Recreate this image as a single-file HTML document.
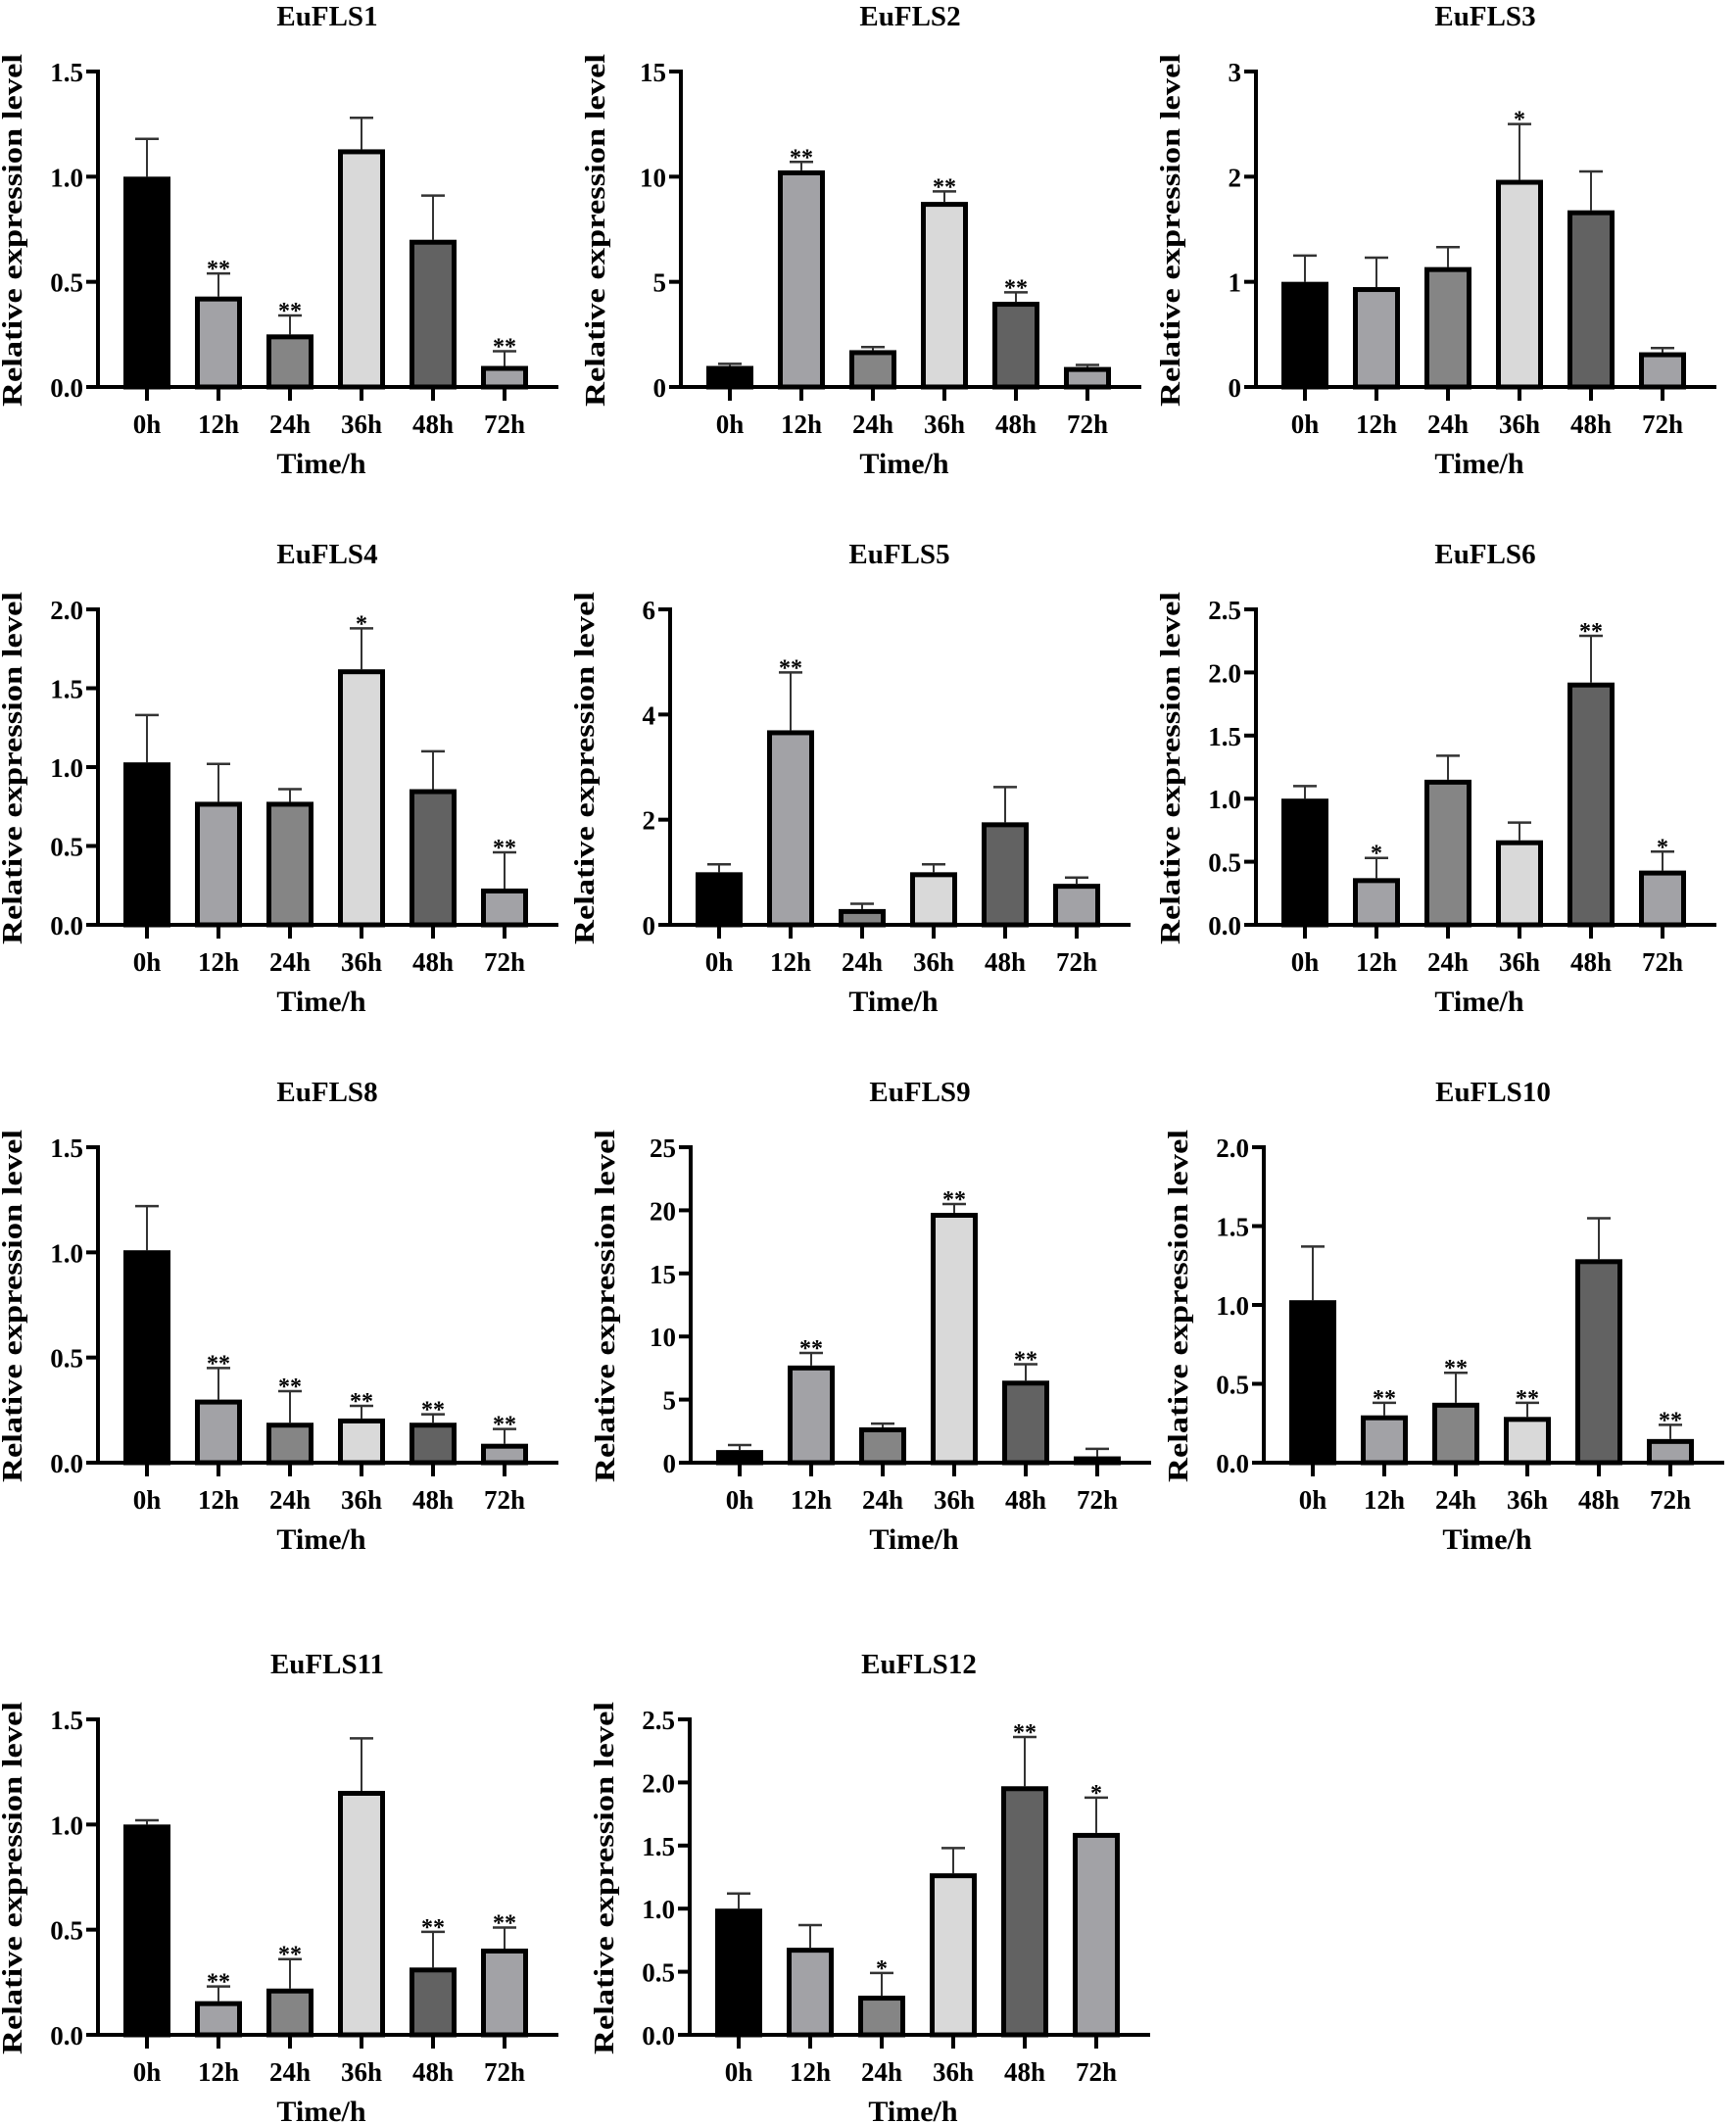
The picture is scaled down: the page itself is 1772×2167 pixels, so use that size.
<!DOCTYPE html>
<html><head><meta charset="utf-8"><style>
html,body{margin:0;padding:0;background:#fff;}
svg{display:block;}
text{font-family:"Liberation Serif",serif;font-weight:bold;fill:#000;}
</style></head><body>
<svg id="fig" width="1772" height="2167" viewBox="0 0 1772 2167" xmlns="http://www.w3.org/2000/svg"></svg>
<script>
const categories = ['0h','12h','24h','36h','48h','72h'];
const titles = ['EuFLS1','EuFLS2','EuFLS3','EuFLS4','EuFLS5','EuFLS6','EuFLS8','EuFLS9','EuFLS10','EuFLS11','EuFLS12'];
const means = [
 [1.0,0.43,0.25,1.13,0.70,0.10],
 [1.0,10.3,1.75,8.8,4.05,0.95],
 [1.0,0.95,1.14,1.97,1.68,0.33],
 [1.03,0.78,0.78,1.62,0.86,0.23],
 [1.0,3.7,0.3,1.0,1.95,0.78],
 [1.0,0.37,1.15,0.67,1.92,0.43],
 [1.01,0.30,0.19,0.21,0.19,0.09],
 [1.0,7.7,2.8,19.8,6.5,0.5],
 [1.03,0.30,0.38,0.29,1.29,0.15],
 [1.0,0.16,0.22,1.16,0.32,0.41],
 [1.0,0.69,0.31,1.28,1.97,1.6]
];
const errTops = [
 [1.18,0.54,0.34,1.28,0.91,0.17],
 [1.1,10.7,1.9,9.3,4.5,1.05],
 [1.25,1.23,1.33,2.5,2.05,0.37],
 [1.33,1.02,0.86,1.88,1.1,0.46],
 [1.15,4.8,0.4,1.15,2.62,0.9],
 [1.1,0.53,1.34,0.81,2.29,0.58],
 [1.22,0.45,0.34,0.27,0.23,0.16],
 [1.4,8.7,3.1,20.5,7.8,1.1],
 [1.37,0.38,0.57,0.38,1.55,0.24],
 [1.02,0.23,0.36,1.41,0.49,0.51],
 [1.12,0.87,0.49,1.48,2.36,1.88]
];
const sigMarks = [
 ['','**','**','','','**'],
 ['','**','','**','**',''],
 ['','','','*','',''],
 ['','','','*','','**'],
 ['','**','','','',''],
 ['','*','','','**','*'],
 ['','**','**','**','**','**'],
 ['','**','','**','**',''],
 ['','**','**','**','','**'],
 ['','**','**','','**','**'],
 ['','','*','','**','*']
];
const tickLabels = [
 ['0.0','0.5','1.0','1.5'],
 ['0','5','10','15'],
 ['0','1','2','3'],
 ['0.0','0.5','1.0','1.5','2.0'],
 ['0','2','4','6'],
 ['0.0','0.5','1.0','1.5','2.0','2.5'],
 ['0.0','0.5','1.0','1.5'],
 ['0','5','10','15','20','25'],
 ['0.0','0.5','1.0','1.5','2.0'],
 ['0.0','0.5','1.0','1.5'],
 ['0.0','0.5','1.0','1.5','2.0','2.5']
];
const layout=[[100,395],[695,395],[1282,395],[100,944],[684,944],[1282,944],[100,1493],[705,1493],[1290,1493],[100,2077],[704,2077]];
const fills=['#000000','#a2a2a6','#858585','#d9d9d9','#626262','#a2a2a6'];
const NS='http://www.w3.org/2000/svg';
const svg=document.getElementById('fig');
function mk(tag,attrs,parent){const e=document.createElementNS(NS,tag);for(const k in attrs)e.setAttribute(k,attrs[k]);(parent||svg).appendChild(e);return e;}
const H=322, STEP=73, OFF=50, BW=48;
titles.forEach((t,p)=>{
  const ax=layout[p][0], base=layout[p][1];
  const g=mk('g',{});
  
  
  const ticks=tickLabels[p];
  const ymax=parseFloat(ticks[ticks.length-1]);
  const y=v=>base-v/ymax*H;
  const x=i=>ax+OFF+i*STEP;
  const tt=mk('text',{x:ax+234,y:base-369,'font-size':29,'text-anchor':'middle'},g);tt.textContent=t;
  
  
  means[p].forEach((v,i)=>{
    const top=errTops[p][i];
    const el=mk('line',{x1:x(i),x2:x(i),y1:y(v),y2:y(top),stroke:'#333',"stroke-width":2},g);
    
    
    const cap=mk('line',{x1:x(i)-12,x2:x(i)+12,y1:y(top),y2:y(top),stroke:'#333',"stroke-width":2.5},g);
    
    
    const r=mk('rect',{x:x(i)-BW/2+2.5,y:y(v)+2.5,width:BW-5,height:Math.max(0,base-y(v)-2.5),fill:fills[i],stroke:'#000','stroke-width':5},g);
    
    
    if(sigMarks[p][i]){
      const s=mk('text',{x:x(i),y:y(top)+3,'font-size':24,'text-anchor':'middle'},g);s.textContent=sigMarks[p][i];
      
      
    }
  });
  const ya=mk('line',{x1:ax,x2:ax,y1:y(ymax)-2,y2:base+2,stroke:'#000','stroke-width':4},g);
  
  
  const xa=mk('line',{x1:ax-2,x2:ax+470,y1:base,y2:base,stroke:'#000','stroke-width':4},g);
  
  
  ticks.forEach(lbl=>{
    const v=parseFloat(lbl);
    mk('line',{x1:ax-12,x2:ax,y1:y(v),y2:y(v),stroke:'#000','stroke-width':4},g);
    const tl=mk('text',{x:ax-15,y:y(v)+10,'font-size':27,'text-anchor':'end'},g);tl.textContent=lbl;
    
    
  });
  categories.forEach((c,i)=>{
    mk('line',{x1:x(i),x2:x(i),y1:base,y2:base+14,stroke:'#000','stroke-width':4},g);
    const xl=mk('text',{x:x(i),y:base+47,'font-size':27,'text-anchor':'middle'},g);xl.textContent=c;
    
    
  });
  const xt=mk('text',{x:ax+228,y:base+88,'font-size':30,'text-anchor':'middle'},g);xt.textContent='Time/h';
  
  
  const cy=base-H/2+1, cx=ax-78;
  const yt=mk('text',{x:0,y:0,'font-size':28,'text-anchor':'middle',transform:'translate('+cx+','+cy+') rotate(-90)',textLength:360,lengthAdjust:'spacingAndGlyphs'},g);yt.textContent='Relative expression level';
  
  
});
</script>
</body></html>
